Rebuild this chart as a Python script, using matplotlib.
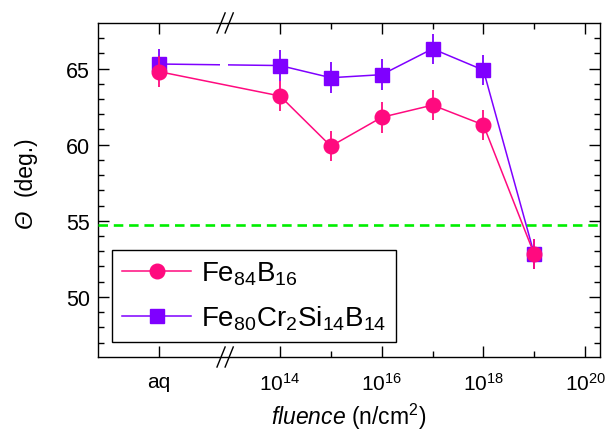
import matplotlib

matplotlib.use("Agg")
import matplotlib.pyplot as plt
import matplotlib.transforms as mtransforms
import numpy as np

plt.rcParams["font.family"] = ["Liberation Sans", "DejaVu Sans"]
plt.rcParams["mathtext.fontset"] = "custom"
plt.rcParams["mathtext.rm"] = "Liberation Sans"
plt.rcParams["mathtext.it"] = "Liberation Sans:italic"
plt.rcParams["mathtext.bf"] = "Liberation Sans:bold"

PINK = "#FF0A7F"
PURPLE = "#7F00FF"
GREEN = "#00EE00"

# fluence: "aq" = as-quenched, the rest in n/cm^2
fluence = ["aq", 1e14, 1e15, 1e16, 1e17, 1e18, 1e19]
theta_fe84b16 = [64.8, 63.2, 59.9, 61.8, 62.6, 61.3, 52.8]
theta_fecrsib = [65.3, 65.2, 64.4, 64.6, 66.3, 64.9, 52.8]
theta_err = [1.0, 1.0, 1.0, 1.0, 1.0, 1.0, 1.0]
magic_angle = 54.7

# the as-quenched point sits left of an axis break, log decades to the right
AQ_POS = 11.62
BREAK_LO, BREAK_HI = 12.82, 12.98


def to_x(values):
    return np.array([AQ_POS if v == "aq" else np.log10(v) for v in values])


x = to_x(fluence)

fig = plt.figure(figsize=(6.05, 4.35), dpi=100)
ax = fig.add_axes([0.162, 0.177, 0.830, 0.768])

ax.axhline(magic_angle, color=GREEN, lw=1.9, dashes=(3.6, 2.2), zorder=3)

ax.errorbar(x, theta_fecrsib, yerr=theta_err, fmt="none", ecolor=PURPLE,
            elinewidth=1.3, capsize=0, zorder=2)
h2, = ax.plot(x, theta_fecrsib, "-s", color=PURPLE, lw=1.1, ms=9.5,
              label=r"Fe$_{80}$Cr$_2$Si$_{14}$B$_{14}$", zorder=2)
ax.errorbar(x, theta_fe84b16, yerr=theta_err, fmt="none", ecolor=PINK,
            elinewidth=1.3, capsize=0, zorder=4)
h1, = ax.plot(x, theta_fe84b16, "-o", color=PINK, lw=1.1, ms=10.5,
              label=r"Fe$_{84}$B$_{16}$", zorder=4)

# white band cuts the connecting lines at the break
ax.axvspan(BREAK_LO, BREAK_HI, ymin=0.01, ymax=0.99, color="white", lw=0, zorder=2.2)

ax.set_xlim(10.42, 20.296)
ax.set_ylim(46.05, 68.0)

ax.set_xticks([AQ_POS, 14, 16, 18, 20])
ax.set_xticklabels(["aq", "$10^{14}$", "$10^{16}$", "$10^{18}$", "$10^{20}$"])
ax.set_xticks([15, 17, 19], minor=True)
ax.set_yticks([50, 55, 60, 65])
ax.set_yticks(np.arange(47, 68, 1), minor=True)

ax.tick_params(which="both", direction="in", top=True, right=True, width=1.0)
ax.tick_params(which="major", length=8, labelsize=15.5, pad=6)
ax.tick_params(axis="x", which="major", labelsize=15, pad=11)
ax.tick_params(which="minor", length=4.5)
for sp in ax.spines.values():
    sp.set_linewidth(1.0)

# break marks on top and bottom spines
trans = mtransforms.blended_transform_factory(ax.transData, ax.transAxes)
for xb in (12.84, 13.0):
    for yb in (0.0, 1.0):
        ax.plot([xb - 0.08, xb + 0.08], [yb - 0.03, yb + 0.03], color="black",
                lw=1.0, transform=trans, clip_on=False, zorder=5)

ax.set_xlabel(r"$\mathit{fluence}$ (n/cm$^2$)", fontsize=16.5, labelpad=5)

# y label in two pieces so the Theta can be italic
fig.text(25 / 605, 1 - 166 / 435, "(deg.)", rotation=90, fontsize=16.5,
         ha="center", va="center")
fig.text(25 / 605, 1 - 219 / 435, "Θ", rotation=90, fontsize=17,
         style="italic", ha="center", va="center")

leg = ax.legend(handles=[h1, h2], loc="lower left", bbox_to_anchor=(0.028, 0.045),
                borderaxespad=0, fontsize=20, handlelength=2.5, handletextpad=0.35,
                labelspacing=0.6, borderpad=0.35, fancybox=False, framealpha=1)
leg.get_frame().set_edgecolor("black")
leg.get_frame().set_linewidth(1.0)

fig.savefig("out.png", dpi=100)
